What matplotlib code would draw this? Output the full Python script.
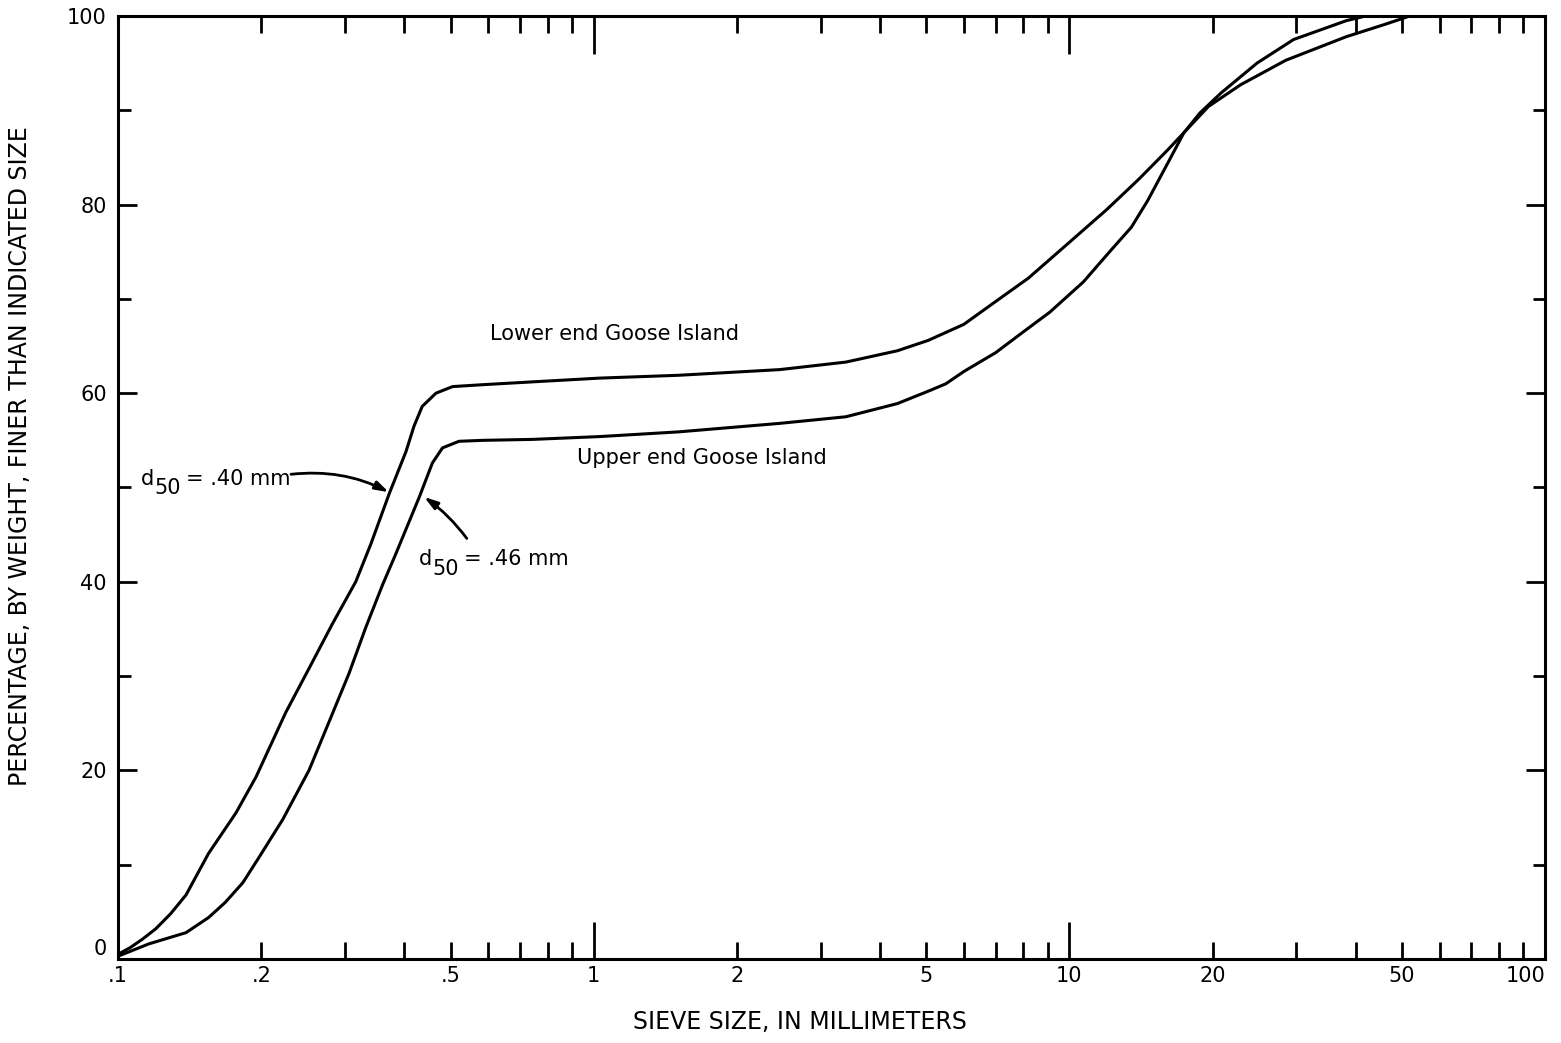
import numpy as np
import matplotlib.pyplot as plt

# lower end Goose Island (left curve, d50 = .40 mm)
lower_x = [0.1, 0.106, 0.1125, 0.12, 0.129, 0.139, 0.155, 0.177, 0.195, 0.225, 0.252, 0.282,
           0.316, 0.34, 0.372, 0.403, 0.419, 0.436, 0.466, 0.505, 0.584, 0.743,
           1.03, 1.51, 2.46, 3.39, 4.35, 5.05, 6.0, 6.9, 8.2, 10.0,
           12.0, 14.0, 16.1, 19.6, 22.9, 28.5, 38.2, 46.0, 52]
lower_y = [0.5, 1.2, 2.1, 3.2, 4.8, 6.8, 11.2, 15.5, 19.3, 26.1, 30.8, 35.5,
           40.0, 44.0, 49.4, 53.8, 56.5, 58.6, 60.0, 60.7, 60.9, 61.2,
           61.6, 61.9, 62.5, 63.3, 64.5, 65.6, 67.3, 69.5, 72.2, 76.0,
           79.5, 82.7, 85.8, 90.4, 92.7, 95.3, 97.8, 99.1, 100]

# upper end Goose Island (right curve, d50 = .46 mm)
upper_x = [0.1, 0.116, 0.139, 0.155, 0.168, 0.183, 0.198, 0.222, 0.252, 0.278, 0.306,
           0.332, 0.36, 0.384, 0.43, 0.458, 0.481, 0.521, 0.584, 0.743, 1.03,
           1.51, 2.46, 3.39, 4.35, 5.1, 5.5, 6.0, 7.0, 8.0, 9.1,
           10.7, 12.2, 13.5, 14.6, 16.1, 17.4, 18.8, 20.8, 24.8, 29.6,
           38.2, 42]
upper_y = [0.3, 1.6, 2.8, 4.4, 6.0, 8.1, 10.8, 14.8, 20.0, 25.2, 30.3,
           35.2, 39.7, 43.0, 49.0, 52.6, 54.2, 54.9, 55.0, 55.1, 55.4,
           55.9, 56.8, 57.5, 58.9, 60.3, 61.0, 62.3, 64.3, 66.5, 68.6,
           71.8, 75.1, 77.6, 80.4, 84.4, 87.6, 89.7, 91.8, 95.0, 97.5,
           99.5, 100]

x_major = [0.1, 1, 10, 100]
x_major_labels = ['.1', '1', '10', '100']
x_minor = [m * 10.0**e for e in (-1, 0, 1) for m in range(2, 10)]
x_minor_labels = ['.2', '', '', '.5', '', '', '', '',
                  '2', '', '', '5', '', '', '', '',
                  '20', '', '', '50', '', '', '', '']
y_major = [0, 20, 40, 60, 80, 100]
y_minor = [10, 30, 50, 70, 90]

fig = plt.figure(figsize=(15.61, 10.43), dpi=100)
ax = fig.add_axes([0.0756, 0.0805, 0.9142, 0.9042])

ax.plot(lower_x, lower_y, 'k-', lw=2.2, solid_capstyle='round', solid_joinstyle='round')
ax.plot(upper_x, upper_y, 'k-', lw=2.2, solid_capstyle='round', solid_joinstyle='round')

ax.set_xscale('log')
ax.set_xlim(0.1, 100)
ax.set_ylim(0, 100)

ax.set_xticks(x_major, x_major_labels)
ax.set_xticks(x_minor, x_minor_labels, minor=True)
ax.set_yticks(y_major, [str(v) for v in y_major])
ax.set_yticks(y_minor, minor=True)

ax.tick_params(axis='x', which='major', direction='in', length=27, width=2,
               top=True, labelsize=15, pad=5)
ax.tick_params(axis='x', which='minor', direction='in', length=12, width=2,
               top=True, labelsize=15, pad=5)
ax.tick_params(axis='y', which='major', direction='in', length=14, width=2,
               right=True, labelsize=15, pad=8)
ax.tick_params(axis='y', which='minor', direction='in', length=9, width=2,
               right=True)
for s in ax.spines.values():
    s.set_linewidth(2.2)

ax.get_yticklabels()[0].set_va('bottom')
ax.get_xticklabels()[-1].set_ha('right')

fig.text(0.5125, 0.020, 'SIEVE SIZE, IN MILLIMETERS', ha='center', va='center',
         fontsize=17)
fig.text(0.0128, 0.563, 'PERCENTAGE, BY WEIGHT, FINER THAN INDICATED SIZE',
         rotation=90, ha='center', va='center', fontsize=17)

ax.text(0.606, 66.3, 'Lower end Goose Island', fontsize=15, va='center')
ax.text(0.924, 53.1, 'Upper end Goose Island', fontsize=15, va='center')


def d50_label(x, y, rest):
    ax.annotate('d', (x, y), va='baseline', fontsize=15)
    ax.annotate('50', (x, y), xytext=(9.5, -7), textcoords='offset points',
                va='baseline', fontsize=15)
    ax.annotate(rest, (x, y), xytext=(32.5, 0), textcoords='offset points',
                va='baseline', fontsize=15)


d50_label(0.1116, 50.3, '= .40 mm')
d50_label(0.4296, 41.8, '= .46 mm')

arrow = dict(arrowstyle='-|>,head_length=0.8,head_width=0.25', lw=2,
             color='k', shrinkA=0, shrinkB=0)
ax.annotate('', xy=(0.371, 49.5), xytext=(0.231, 51.4),
            arrowprops=dict(arrow, connectionstyle='arc3,rad=-0.15'))
ax.annotate('', xy=(0.440, 49.0), xytext=(0.541, 44.6),
            arrowprops=dict(arrow, connectionstyle='arc3,rad=0.08'))

plt.savefig('out.png', dpi=100)
